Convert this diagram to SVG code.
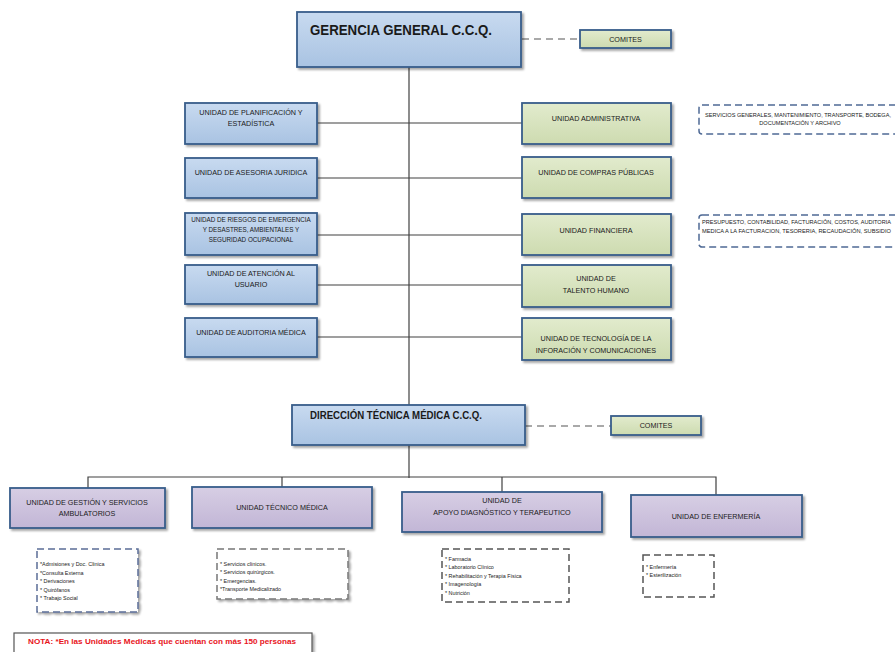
<svg xmlns="http://www.w3.org/2000/svg" width="895" height="652" viewBox="0 0 895 652">
<style>
text{font-family:"Liberation Sans",Arial,sans-serif;fill:#1a1a1a}
.box{stroke:#385d8a;stroke-width:1.8;filter:url(#sh)}
.blue{fill:url(#gB)}
.green{fill:url(#gG)}
.purple{fill:url(#gP)}
.t{font-size:7.2px;text-anchor:middle}
.ts{font-size:6.3px;text-anchor:middle}
.tl{font-size:5.4px}
.tr{font-size:5.6px}
.ln{stroke:#404040;stroke-width:1.2;fill:none}
.dl{stroke:#555;stroke-width:1.2;fill:none;stroke-dasharray:7,5}
.dbox{fill:#fff;stroke-width:1.5;stroke-dasharray:7,4}
</style>
<defs>
<linearGradient id="gB" x1="0" y1="0" x2="0" y2="1"><stop offset="0" stop-color="#c8daf0"/><stop offset="1" stop-color="#a9c3e2"/></linearGradient>
<linearGradient id="gG" x1="0" y1="0" x2="0" y2="1"><stop offset="0" stop-color="#e2ebcd"/><stop offset="1" stop-color="#cddbb0"/></linearGradient>
<linearGradient id="gP" x1="0" y1="0" x2="0" y2="1"><stop offset="0" stop-color="#d7cee4"/><stop offset="1" stop-color="#c2b6d6"/></linearGradient>
<filter id="sh" x="-10%" y="-20%" width="130%" height="160%"><feDropShadow dx="2" dy="2" stdDeviation="1.2" flood-color="#000" flood-opacity="0.35"/></filter>
</defs>

<g id="connectors">
<line class="ln" x1="409" y1="67" x2="409" y2="478"/>
<line class="ln" x1="317" y1="123" x2="522" y2="123"/>
<line class="ln" x1="317" y1="178" x2="522" y2="178"/>
<line class="ln" x1="317" y1="235" x2="522" y2="235"/>
<line class="ln" x1="317" y1="285" x2="522" y2="285"/>
<line class="ln" x1="317" y1="337" x2="522" y2="337"/>
<polyline class="ln" points="88,488 88,477 716,477 716,495"/>
<line class="ln" x1="282" y1="477" x2="282" y2="487"/>
<line class="ln" x1="502" y1="477" x2="502" y2="492"/>
<line class="dl" x1="522" y1="39" x2="580" y2="39"/>
<line class="dl" x1="525" y1="426" x2="611" y2="426"/>
</g>

<g id="gerencia">
<rect class="box blue" x="297" y="12" width="224" height="55" stroke-width="2.5"/>
<text x="310" y="35" font-size="14" font-weight="bold" textLength="182" lengthAdjust="spacingAndGlyphs">GERENCIA GENERAL C.C.Q.</text>
</g>
<g id="comites1">
<rect class="box green" x="580" y="30" width="91" height="18"/>
<text class="t" x="625.5" y="42" font-size="6.5px">COMITES</text>
</g>

<g id="planificacion">
<rect class="box blue" x="185" y="103" width="132" height="41"/>
<text class="t" x="251" y="115">UNIDAD DE PLANIFICACIÓN Y</text>
<text class="t" x="251" y="126">ESTADÍSTICA</text>
</g>
<g id="asesoria">
<rect class="box blue" x="185" y="158" width="132" height="40"/>
<text class="t" x="251" y="175">UNIDAD DE ASESORIA JURIDICA</text>
</g>
<g id="riesgos">
<rect class="box blue" x="185" y="213" width="132" height="42"/>
<text class="ts" x="251" y="222">UNIDAD DE RIESGOS DE EMERGENCIA</text>
<text class="ts" x="251" y="232">Y DESASTRES, AMBIENTALES Y</text>
<text class="ts" x="251" y="242">SEGURIDAD OCUPACIONAL</text>
</g>
<g id="atencion">
<rect class="box blue" x="185" y="265" width="132" height="39"/>
<text class="t" x="251" y="276" font-size="7.6px">UNIDAD DE ATENCIÓN AL</text>
<text class="t" x="251" y="287" font-size="7.6px">USUARIO</text>
</g>
<g id="auditoria">
<rect class="box blue" x="185" y="318" width="132" height="39"/>
<text class="t" x="251" y="335" font-size="7.4px">UNIDAD DE AUDITORIA MÉDICA</text>
</g>

<g id="administrativa">
<rect class="box green" x="522" y="103" width="149" height="41"/>
<text class="t" x="596" y="121">UNIDAD ADMINISTRATIVA</text>
</g>
<g id="compras">
<rect class="box green" x="522" y="157" width="149" height="41"/>
<text class="t" x="596" y="175">UNIDAD DE COMPRAS PÚBLICAS</text>
</g>
<g id="financiera">
<rect class="box green" x="522" y="214" width="149" height="41"/>
<text class="t" x="596" y="233">UNIDAD FINANCIERA</text>
</g>
<g id="talento">
<rect class="box green" x="522" y="265" width="149" height="42"/>
<text class="t" x="596" y="281">UNIDAD DE</text>
<text class="t" x="596" y="293">TALENTO HUMANO</text>
</g>
<g id="tecnologia">
<rect class="box green" x="522" y="318" width="149" height="42"/>
<text class="t" x="596" y="341">UNIDAD DE TECNOLOGÍA DE LA</text>
<text class="t" x="596" y="353">INFORACIÓN Y COMUNICACIONES</text>
</g>

<g id="servicios-generales">
<rect class="dbox" x="699" y="105" width="210" height="29" rx="3" stroke="#4f6a95"/>
<text class="tr" x="705" y="117" textLength="186" lengthAdjust="spacingAndGlyphs">SERVICIOS GENERALES, MANTENIMIENTO, TRANSPORTE, BODEGA,</text>
<text class="tr" x="800" y="125" text-anchor="middle">DOCUMENTACIÓN Y ARCHIVO</text>
</g>
<g id="presupuesto">
<rect class="dbox" x="699" y="215" width="210" height="32" rx="3" stroke="#4f6a95"/>
<text class="tr" x="702" y="224" textLength="189" lengthAdjust="spacingAndGlyphs">PRESUPUESTO, CONTABILIDAD, FACTURACIÓN, COSTOS, AUDITORIA</text>
<text class="tr" x="702" y="233" textLength="189" lengthAdjust="spacingAndGlyphs">MEDICA A LA FACTURACION, TESORERIA, RECAUDACIÓN, SUBSIDIO</text>
</g>

<g id="direccion">
<rect class="box blue" x="292" y="405" width="233" height="40" stroke-width="2.5"/>
<text x="310" y="419" font-size="10" font-weight="bold" textLength="172" lengthAdjust="spacingAndGlyphs">DIRECCIÓN TÉCNICA MÉDICA C.C.Q.</text>
</g>
<g id="comites2">
<rect class="box green" x="611" y="416" width="90" height="19"/>
<text class="t" x="656" y="428" font-size="6.5px">COMITES</text>
</g>

<g id="gestion">
<rect class="box purple" x="10" y="488" width="155" height="40"/>
<text class="t" x="87" y="505">UNIDAD DE GESTIÓN Y SERVICIOS</text>
<text class="t" x="87" y="516">AMBULATORIOS</text>
</g>
<g id="tecnico">
<rect class="box purple" x="192" y="487" width="180" height="41"/>
<text class="t" x="282" y="510">UNIDAD TÉCNICO MÉDICA</text>
</g>
<g id="apoyo">
<rect class="box purple" x="402" y="492" width="200" height="40"/>
<text class="t" x="502" y="503">UNIDAD DE</text>
<text class="t" x="502" y="515">APOYO DIAGNÓSTICO Y TERAPEUTICO</text>
</g>
<g id="enfermeria">
<rect class="box purple" x="631" y="495" width="171" height="42"/>
<text class="t" x="716" y="519">UNIDAD DE ENFERMERÍA</text>
</g>

<g id="lista-gestion">
<rect class="dbox" x="37" y="549" width="101" height="63" stroke="#5b6e96" filter="url(#sh)"/>
<text class="tl" x="40" y="566">*Admisiones y Doc. Clinica</text>
<text class="tl" x="40" y="574.5">*Consulta Externa</text>
<text class="tl" x="40" y="583">* Derivaciones</text>
<text class="tl" x="40" y="591.5">* Quirófanos</text>
<text class="tl" x="40" y="600">* Trabajo Social</text>
</g>
<g id="lista-tecnico">
<rect class="dbox" x="217" y="549" width="131" height="50" stroke="#777" filter="url(#sh)"/>
<text class="tl" x="220" y="566">* Servicios clínicos.</text>
<text class="tl" x="220" y="574">* Servicios quirúrgicos.</text>
<text class="tl" x="220" y="582.5">* Emergencias.</text>
<text class="tl" x="220" y="591">*Transporte Medicalizado</text>
</g>
<g id="lista-apoyo">
<rect class="dbox" x="442" y="549" width="127" height="53" stroke="#555"/>
<text class="tl" x="445" y="560.5">* Farmacia</text>
<text class="tl" x="445" y="569">* Laboratorio Clínico</text>
<text class="tl" x="445" y="577.5">* Rehabilitación y Terapia Física</text>
<text class="tl" x="445" y="586">* Imagenología</text>
<text class="tl" x="445" y="594.5">* Nutrición</text>
</g>
<g id="lista-enfermeria">
<rect class="dbox" x="643" y="555" width="71" height="42" stroke="#555"/>
<text class="tl" x="646" y="568.5">* Enfermería</text>
<text class="tl" x="646" y="577">* Esterilización</text>
</g>

<g id="nota">
<rect x="14" y="633" width="298" height="25" fill="#fff" stroke="#555" stroke-width="1.2" filter="url(#sh)"/>
<text x="28" y="644" font-size="7.8px" font-weight="bold" style="fill:#e8141b" textLength="268" lengthAdjust="spacingAndGlyphs">NOTA: *En las Unidades Medicas que cuentan con  más 150 personas</text>
</g>
</svg>
